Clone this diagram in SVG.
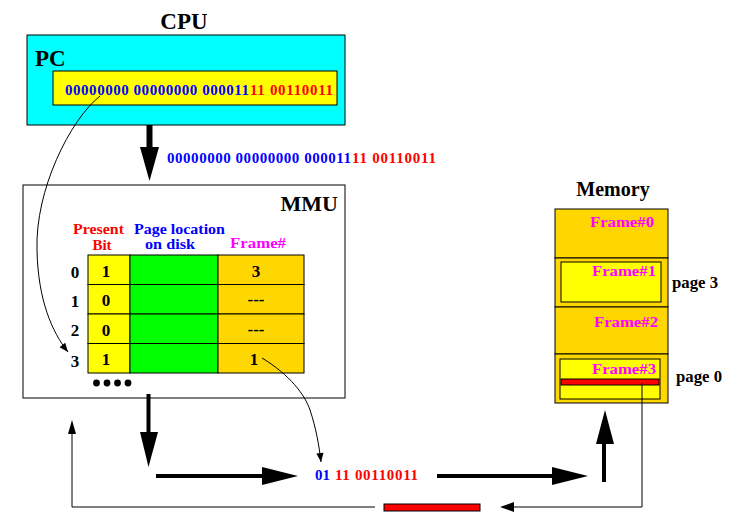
<svg xmlns="http://www.w3.org/2000/svg" width="740" height="524" viewBox="0 0 740 524">
<style>
text{font-family:"Liberation Serif","Times New Roman",serif;font-weight:bold}
.t20{font-size:23px;fill:#000}
.t14{font-size:15px}
.t16{font-size:16px}
.t17{font-size:17px;fill:#000}
.b{fill:#0000ff}.r{fill:#ff0000}.m{fill:#ff00ff}.k{fill:#000}
.thin{fill:none;stroke:#000;stroke-width:1}
.box{stroke:#000;stroke-width:1}
</style>
<defs>
<marker id="ah" viewBox="0 0 10 10" refX="10" refY="5" markerWidth="11" markerHeight="9" markerUnits="userSpaceOnUse" orient="auto">
<path d="M0,1 L10,5 L0,9 Z" fill="#000"/>
</marker>
</defs>
<rect width="740" height="524" fill="#fff"/>

<g id="cpu">
<text class="t20" x="184" y="29" text-anchor="middle">CPU</text>
<rect class="box" x="27" y="35" width="318" height="90" fill="#00ffff"/>
<text class="t20" x="35" y="66">PC</text>
<rect class="box" x="53" y="71" width="284" height="34" fill="#ffff00"/>
<text class="t14 b" x="65" y="95" textLength="184" lengthAdjust="spacing">00000000 00000000 000011</text>
<text class="t14 r" x="250" y="95" textLength="83" lengthAdjust="spacing">11 00110011</text>
</g>

<g id="address">
<text class="t14 b" x="167" y="163" textLength="184" lengthAdjust="spacing">00000000 00000000 000011</text>
<text class="t14 r" x="352" y="163" textLength="84" lengthAdjust="spacing">11 00110011</text>
</g>

<g id="mmu">
<rect class="box" x="23" y="185" width="322" height="213" fill="#fff"/>
<text class="t20" x="338" y="211" text-anchor="end" style="font-size:22px">MMU</text>
<text class="t14 r" x="73" y="234" textLength="51" lengthAdjust="spacingAndGlyphs">Present</text>
<text class="t14 r" x="102" y="250" text-anchor="middle">Bit</text>
<text class="t14 b" x="134" y="234" textLength="91" lengthAdjust="spacingAndGlyphs">Page location</text>
<text class="t14 b" x="145" y="249" textLength="50" lengthAdjust="spacingAndGlyphs">on disk</text>
<text class="t14 m" x="230" y="248" textLength="56" lengthAdjust="spacingAndGlyphs">Frame#</text>
<g class="box">
<rect x="88" y="255" width="42" height="29.5" fill="#ffff00"/>
<rect x="130" y="255" width="88" height="29.5" fill="#00ff00"/>
<rect x="218" y="255" width="86" height="29.5" fill="#ffd700"/>
<rect x="88" y="284.5" width="42" height="29.5" fill="#ffff00"/>
<rect x="130" y="284.5" width="88" height="29.5" fill="#00ff00"/>
<rect x="218" y="284.5" width="86" height="29.5" fill="#ffd700"/>
<rect x="88" y="314" width="42" height="29.5" fill="#ffff00"/>
<rect x="130" y="314" width="88" height="29.5" fill="#00ff00"/>
<rect x="218" y="314" width="86" height="29.5" fill="#ffd700"/>
<rect x="88" y="343.5" width="42" height="29.5" fill="#ffff00"/>
<rect x="130" y="343.5" width="88" height="29.5" fill="#00ff00"/>
<rect x="218" y="343.5" width="86" height="29.5" fill="#ffd700"/>
</g>
<g class="t17" text-anchor="middle">
<text x="75" y="278">0</text><text x="75" y="307">1</text><text x="75" y="336">2</text><text x="75" y="367">3</text>
<text x="106" y="277">1</text><text x="106" y="306">0</text><text x="106" y="336">0</text><text x="106" y="365">1</text>
<text x="256" y="277">3</text><text x="256" y="305">---</text><text x="256" y="335">---</text><text x="254" y="365">1</text>
</g>
<g fill="#000"><circle cx="96.5" cy="383" r="3.4"/><circle cx="107" cy="383" r="3.4"/><circle cx="117.5" cy="383" r="3.4"/><circle cx="128" cy="383" r="3.4"/></g>
</g>

<g id="memory">
<text x="613" y="196" style="font-size:20px" text-anchor="middle">Memory</text>
<g class="box">
<rect x="555" y="209" width="113" height="49" fill="#ffd700"/>
<rect x="555" y="258" width="113" height="49" fill="#ffd700"/>
<rect x="555" y="307" width="113" height="47" fill="#ffd700"/>
<rect x="555" y="354" width="113" height="49" fill="#ffd700"/>
<rect x="561" y="262" width="100" height="40" fill="#ffff00"/>
<rect x="560" y="359" width="100" height="40" fill="#ffff00"/>
<rect x="561" y="379" width="98" height="6" fill="#ff0000"/>
</g>
<text class="t14 m" x="590" y="227" textLength="64" lengthAdjust="spacingAndGlyphs">Frame#0</text>
<text class="t14 m" x="592" y="276" textLength="64" lengthAdjust="spacingAndGlyphs">Frame#1</text>
<text class="t14 m" x="594" y="327" textLength="64" lengthAdjust="spacingAndGlyphs">Frame#2</text>
<text class="t14 m" x="592" y="374" textLength="64" lengthAdjust="spacingAndGlyphs">Frame#3</text>
<text class="t17" x="672" y="288" style="font-size:16px" textLength="46" lengthAdjust="spacingAndGlyphs">page 3</text>
<text class="t17" x="676" y="382" style="font-size:16px" textLength="46" lengthAdjust="spacingAndGlyphs">page 0</text>
</g>

<g id="result">
<text class="t14 b" x="315" y="480">01</text>
<text class="t14 r" x="335" y="480" textLength="83" lengthAdjust="spacing">11 00110011</text>
</g>

<g id="redbar">
<rect class="box" x="384" y="504" width="96" height="7" fill="#ff0000"/>
</g>

<g id="connectors">
<line x1="149.5" y1="125" x2="149.5" y2="150" stroke="#000" stroke-width="6"/>
<polygon points="140,147 159,147 149.5,181" fill="#000"/>
<line x1="148.5" y1="394" x2="148.5" y2="435" stroke="#000" stroke-width="4"/>
<polygon points="140,432 158,432 148.5,467" fill="#000"/>
<line x1="156" y1="476" x2="265" y2="476" stroke="#000" stroke-width="4"/>
<polygon points="262,467 262,485 298,476" fill="#000"/>
<line x1="437" y1="476" x2="555" y2="476" stroke="#000" stroke-width="4"/>
<polygon points="552,467 552,485 588,476" fill="#000"/>
<line x1="604" y1="482" x2="604" y2="440" stroke="#000" stroke-width="4"/>
<polygon points="596,444 614,444 605,410" fill="#000"/>
<path class="thin" d="M100,96 C70,120 35,190 37,250 C38,300 52,332 68,352" marker-end="url(#ah)"/>
<path class="thin" d="M262,358 C290,375 305,395 310,410 C316,428 319,445 321,462" marker-end="url(#ah)"/>
<polyline class="thin" points="642,383 642,507 512,507"/>
<polygon points="500,507 514,502 514,512" fill="#000"/>
<polyline class="thin" points="375,507 72,507 72,432"/>
<polygon points="72,420 68,434 76,434" fill="#000"/>
</g>
</svg>
